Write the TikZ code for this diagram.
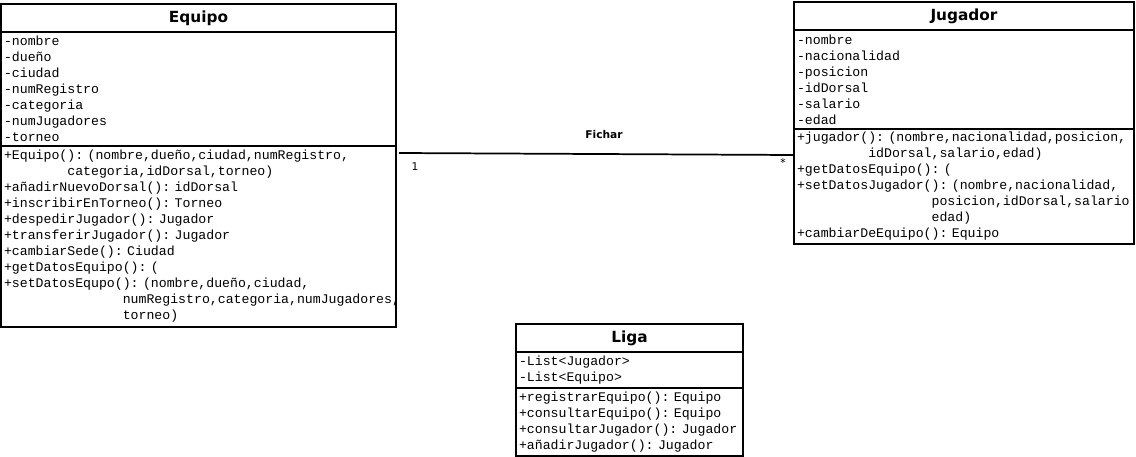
\documentclass[tikz,border=0pt]{standalone}
\usepackage{fontspec}
\setmainfont{DejaVu Sans}
\setmonofont{Liberation Mono}
\usepackage{tikz}
\usetikzlibrary{positioning}
\hyphenpenalty=10000
\exhyphenpenalty=10000
\newcommand{\umlmono}{\fontsize{9.9}{12}\selectfont\ttfamily\spaceskip0.6em\relax\xspaceskip0.6em\relax}
\newcommand{\indnt}[1]{\hspace*{#1\dimexpr0.6em\relax}}

\begin{document}
\frenchspacing
\begin{tikzpicture}[
        x=0.75pt, y=-0.75pt,
        % Define common styles for the class boxes and text
        classname/.style={draw, line width=1.3pt, outer sep=0pt, inner sep=0pt, minimum height=21pt, font=\fontsize{11.5}{13}\selectfont\bfseries},
        compart/.style={draw, line width=1.3pt, outer sep=0pt, align=left, inner xsep=2.25pt, inner ysep=0pt, font=\umlmono},
        roletext/.style={inner sep=0pt, font=\fontsize{8}{10}\selectfont},
        assoc/.style={line width=1.3pt}
    ]
        \useasboundingbox (0,0) rectangle (1136,457);

        % Define the nodes
        \node[classname, minimum width=296.25pt, anchor=north west] (equipo) at (1,4) {Equipo};
        \node[compart, text width=291.75pt, minimum height=85.5pt, below=0pt of equipo] (equipoattr)
            {-nombre\\-dueño\\-ciudad\\-numRegistro\\-categoria\\-numJugadores\\-torneo};
        \node[compart, text width=291.75pt, minimum height=135.75pt, below=0pt of equipoattr] (equipometh)
            {+Equipo(): (nombre,dueño,ciudad,numRegistro,\\
             \indnt{8}categoria,idDorsal,torneo)\\
             +añadirNuevoDorsal(): idDorsal\\
             +inscribirEnTorneo(): Torneo\\
             +despedirJugador(): Jugador\\
             +transferirJugador(): Jugador\\
             +cambiarSede(): Ciudad\\
             +getDatosEquipo(): (\\
             +setDatosEqupo(): (nombre,dueño,ciudad,\\
             \indnt{15}numRegistro,categoria,numJugadores,\\
             \indnt{15}torneo)};

        \node[classname, minimum width=255pt, anchor=north west] (jugador) at (794,2) {Jugador};
        \node[compart, text width=250.5pt, minimum height=74.25pt, below=0pt of jugador] (jugadorattr)
            {-nombre\\-nacionalidad\\-posicion\\-idDorsal\\-salario\\-edad};
        \node[compart, text width=250.5pt, minimum height=86.25pt, below=0pt of jugadorattr] (jugadormeth)
            {+jugador(): (nombre,nacionalidad,posicion,\\
             \indnt{9}idDorsal,salario,edad)\\
             +getDatosEquipo(): (\\
             +setDatosJugador(): (nombre,nacionalidad,\\
             \indnt{17}posicion,idDorsal,salario\\
             \indnt{17}edad)\\
             +cambiarDeEquipo(): Equipo};

        \node[classname, minimum width=170.25pt, anchor=north west] (liga) at (516,324) {Liga};
        \node[compart, text width=165.75pt, minimum height=27pt, below=0pt of liga] (ligaattr)
            {-List<Jugador>\\-List<Equipo>};
        \node[compart, text width=165.75pt, minimum height=51pt, below=0pt of ligaattr] (ligameth)
            {+registrarEquipo(): Equipo\\
             +consultarEquipo(): Equipo\\
             +consultarJugador(): Jugador\\
             +añadirJugador(): Jugador};

        % Draw the association with its labels
        \draw[assoc] ([shift={(3,7)}]equipometh.north east)
            -- node[roletext, pos=0.519, yshift=15pt, font=\fontsize{8}{10}\selectfont\bfseries] (fichar) {Fichar}
               node[roletext, pos=0, xshift=12pt, yshift=-10.5pt] (multequipo) {1}
               node[roletext, pos=1, xshift=-8.25pt, yshift=-6pt] (multjugador) {*}
            ([shift={(0,26)}]jugadormeth.north west);

    \end{tikzpicture}
\end{document}
